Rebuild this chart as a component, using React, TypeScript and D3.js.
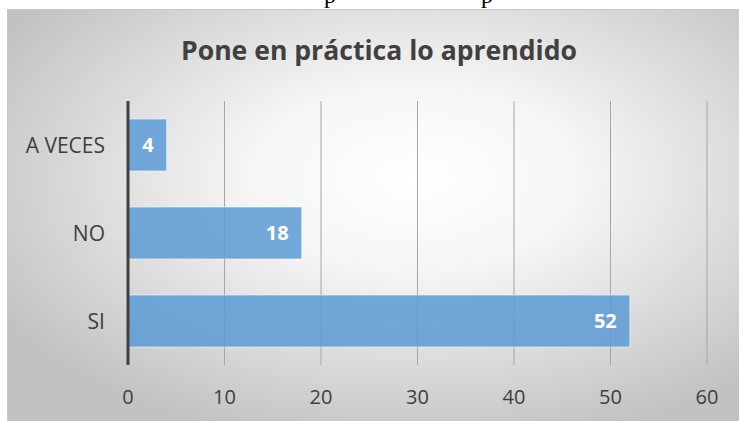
import React from "react";
import * as d3 from "d3";

const categories = ["A VECES", "NO", "SI"];
const values = [4, 18, 52];
const xTicks = [0, 10, 20, 30, 40, 50, 60];
const title = "Pone en práctica lo aprendido";

export default function App() {
  const W = 739;
  const H = 421;
  const plot = { left: 128, right: 707, top: 101, bottom: 365 };
  const x = d3.scaleLinear().domain([0, 60]).range([plot.left, plot.right]);
  const y = d3
    .scaleBand<string>()
    .domain(categories)
    .range([plot.top, plot.bottom])
    .paddingInner(0.41)
    .paddingOuter(0.205);

  return (
    <svg
      width={W}
      height={H}
      style={{ position: "absolute", left: 0, top: 0, display: "block" }}
      fontFamily="'Open Sans', sans-serif"
    >
      <defs>
        <radialGradient id="bg" cx="55%" cy="40%" r="65%">
          <stop offset="0%" stopColor="#ffffff" />
          <stop offset="35%" stopColor="#f5f5f5" />
          <stop offset="100%" stopColor="#c2c2c2" />
        </radialGradient>
      </defs>
      <rect x={0} y={0} width={W} height={H} fill="#ffffff" />
      <text x={330} y={3} fontFamily="'Liberation Serif', serif" fontSize={24} fill="#000" textAnchor="middle">p</text>
      <text x={487} y={3} fontFamily="'Liberation Serif', serif" fontSize={24} fill="#000" textAnchor="middle">p</text>
      <rect x={7.5} y={9.5} width={740} height={420} fill="url(#bg)" stroke="#c8c8c8" strokeWidth={1} />
      <text
        x={379}
        y={60}
        textAnchor="middle"
        fontSize={26}
        fontWeight="bold"
        fill="#404040"
        textLength={396}
        lengthAdjust="spacingAndGlyphs"
      >
        {title}
      </text>
      {xTicks.filter((t) => t > 0).map((t) => (
        <line key={"g" + t} x1={x(t)} x2={x(t)} y1={plot.top} y2={plot.bottom} stroke="#a6a6a6" strokeWidth={1} />
      ))}
      {categories.map((c, i) => (
        <g key={c}>
          <rect
            x={x(0)}
            y={y(c)!}
            width={x(values[i]) - x(0)}
            height={y.bandwidth()}
            fill="#5B9BD5"
            fillOpacity={0.85}
            stroke="#ffffff"
            strokeOpacity={0.5}
            strokeWidth={1}
          />
          <text
            x={x(values[i]) - 13}
            y={y(c)! + y.bandwidth() / 2}
            dy="0.36em"
            textAnchor="end"
            fontSize={20}
            fontWeight="bold"
            fill="#ffffff"
          >
            {values[i]}
          </text>
          <text
            x={105}
            y={y(c)! + y.bandwidth() / 2}
            dy="0.36em"
            textAnchor="end"
            fontSize={21}
            fill="#404040"
          >
            {c}
          </text>
        </g>
      ))}
      <line x1={x(0)} x2={x(0)} y1={plot.top} y2={plot.bottom} stroke="#404040" strokeWidth={3} />
      {xTicks.map((t) => (
        <text key={"t" + t} x={x(t)} y={397} dy="0.36em" textAnchor="middle" fontSize={20} fill="#404040">
          {t}
        </text>
      ))}
    </svg>
  );
}
